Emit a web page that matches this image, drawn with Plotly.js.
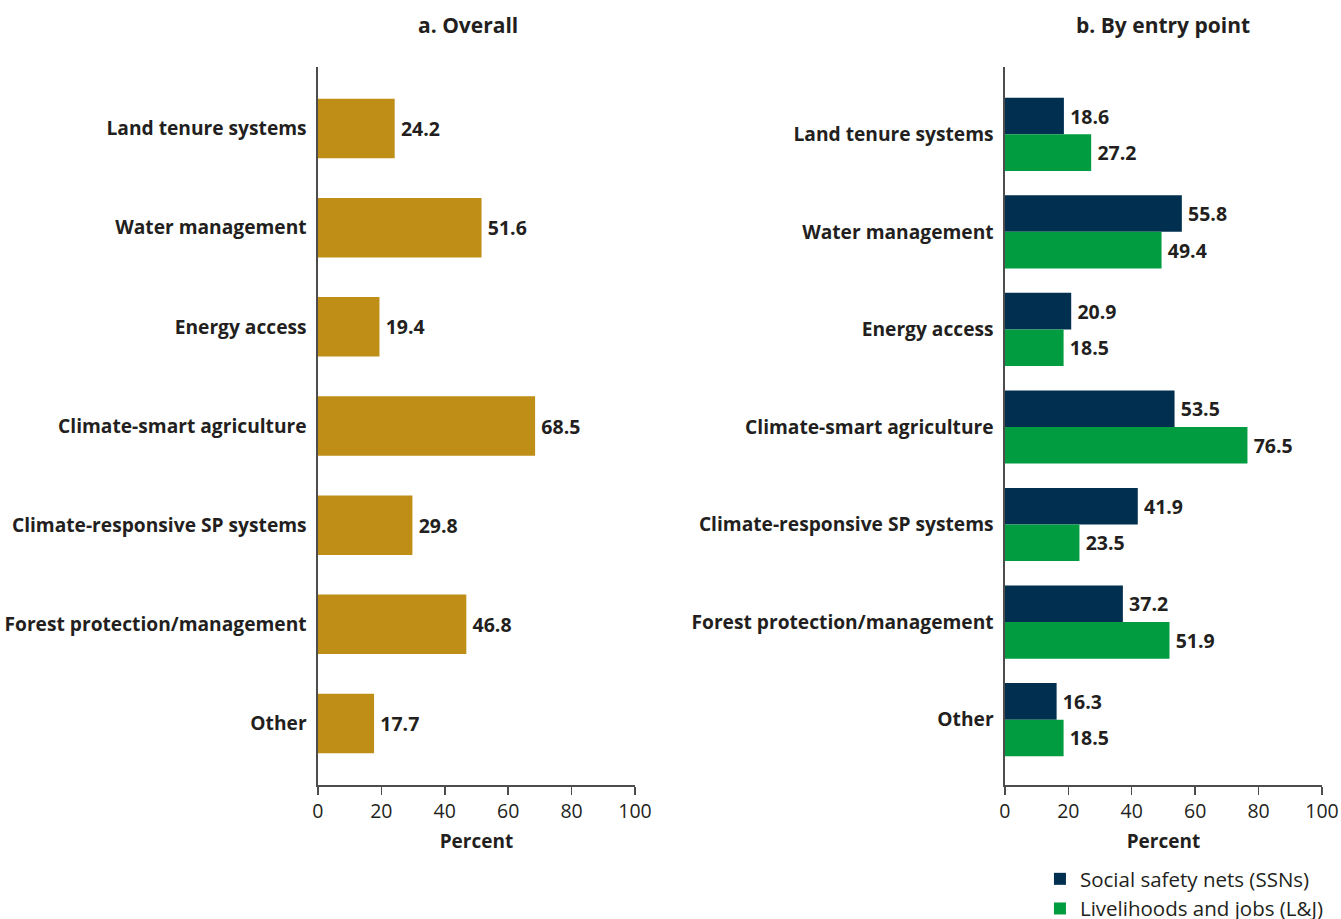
<!DOCTYPE html>
<html><head><meta charset="utf-8">
<script src="https://cdn.plot.ly/plotly-3.0.1.min.js"></script>
<style>html,body{margin:0;background:#fff;overflow:hidden}#chart{width:1341px;height:950px}</style>
</head><body><div id="chart"></div>
<script>
const categories = ["Land tenure systems","Water management","Energy access","Climate-smart agriculture","Climate-responsive SP systems","Forest protection/management","Other"];
const overall = [24.2, 51.6, 19.4, 68.5, 29.8, 46.8, 17.7];
const ssn = [18.6, 55.8, 20.9, 53.5, 41.9, 37.2, 16.3];
const lj = [27.2, 49.4, 18.5, 76.5, 23.5, 51.9, 18.5];
const seriesNames = ["Social safety nets (SSNs)", "Livelihoods and jobs (L&J)"];
const panelTitles = ["a. Overall", "b. By entry point"];

const H = 950;
const FONT = "'Open Sans', sans-serif";
const TXT = "#231f20";
const fmt = v => "\u2009" + v.toFixed(1);
const valFont = {family:FONT, size:19.5, color:TXT, weight:"bold"};

const traces = [
  {type:"bar", orientation:"h", x: overall, y: categories, xaxis:"x", yaxis:"y",
   marker:{color:"#be8e16"}, width:0.6, text: overall.map(fmt), textposition:"outside",
   textfont:valFont, cliponaxis:false, showlegend:false, hoverinfo:"x+y"},
  {type:"bar", orientation:"h", x: ssn, y: categories, xaxis:"x2", yaxis:"y2", name: seriesNames[0],
   marker:{color:"#002f4f"}, text: ssn.map(fmt), textposition:"outside",
   textfont:valFont, cliponaxis:false},
  {type:"bar", orientation:"h", x: lj, y: categories, xaxis:"x2", yaxis:"y2", name: seriesNames[1],
   marker:{color:"#009c3f"}, text: lj.map(fmt), textposition:"outside",
   textfont:valFont, cliponaxis:false}
];

const xax = (dom, anchor) => ({domain: dom, anchor: anchor, range:[0,100], dtick:20, tick0:0,
  automargin:false, showgrid:false, zeroline:false, showline:true, linecolor:"#4d4d4d", linewidth:1.5,
  ticks:"outside", ticklen:8, tickcolor:"#4d4d4d", tickwidth:1.5,
  tickfont:{family:FONT, size:19.5, color:TXT},
  title:{text:"Percent", font:{family:FONT, size:19, color:TXT, weight:"bold"}, standoff:12}});
const yax = (anchor, range) => ({domain:[1-785/H, 1-67/H], anchor: anchor, type:"category", range: range,
  automargin:false, showgrid:false, zeroline:false, showline:true, linecolor:"#4d4d4d", linewidth:1.5, ticks:"",
  ticklabelstandoff:6, tickfont:{family:FONT, size:19.2, color:TXT, weight:"bold"}});

const layout = {
  width:1341, height:H, margin:{l:0, r:0, t:0, b:0},
  paper_bgcolor:"#fff", plot_bgcolor:"#fff",
  font:{family:FONT, color:TXT},
  barmode:"group", bargap:0.25, bargroupgap:0,
  xaxis: xax([0.2371, 0.4735], "y"),
  yaxis: yax("x", [6.62, -0.62]),
  xaxis2: xax([0.7494, 0.9858], "y2"),
  yaxis2: yax("x2", [6.67, -0.69]),
  showlegend:true,
  legend:{x:0.7755, y:1-859/H, xanchor:"left", yanchor:"top", traceorder:"normal",
    font:{family:FONT, size:20.5, color:TXT}, itemwidth:30, tracegroupgap:0, bgcolor:"rgba(0,0,0,0)"},
  annotations:[
    {text: panelTitles[0], xref:"paper", yref:"paper", x:468/1341, y:1-25/H, xanchor:"center", yanchor:"middle",
     showarrow:false, font:{family:FONT, size:21, color:TXT, weight:"bold"}},
    {text: panelTitles[1], xref:"paper", yref:"paper", x:1163/1341, y:1-25/H, xanchor:"center", yanchor:"middle",
     showarrow:false, font:{family:FONT, size:21, color:TXT, weight:"bold"}}
  ]
};
Plotly.newPlot("chart", traces, layout, {displayModeBar:false, staticPlot:true});
</script></body></html>
